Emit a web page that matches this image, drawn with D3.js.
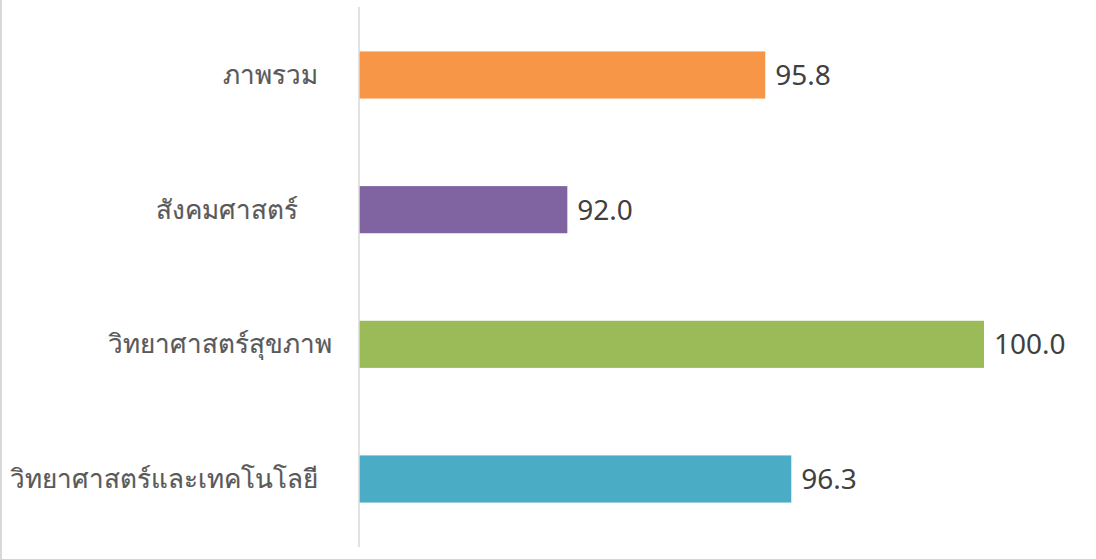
<!DOCTYPE html>
<html>
<head>
<meta charset="utf-8">
<script src="https://cdn.jsdelivr.net/npm/d3@7"></script>
<style>
  body { margin: 0; background: #fff; }
  text { font-family: "Noto Sans", "DejaVu Sans", sans-serif; white-space: pre; }
</style>
</head>
<body>
<div id="chart"></div>
<script>
var width = 1096;
var height = 559;

// data (top to bottom)
var categories = ["ภาพรวม  ", "สังคมศาสตร์     ", "วิทยาศาสตร์สุขภาพ", "วิทยาศาสตร์และเทคโนโลยี  "];
var values = [95.8, 92.0, 100.0, 96.3];
var colors = ["#F79646", "#8064A2", "#9BBB59", "#4BACC6"];

var svg = d3.select("#chart")
    .append("svg")
    .attr("width", width)
    .attr("height", height);

// thin frame line on the left edge
svg.append("line")
    .attr("x1", 1).attr("x2", 1)
    .attr("y1", 0).attr("y2", height)
    .attr("stroke", "#d9d9d9")
    .attr("stroke-width", 2);

var x = d3.scaleLinear().domain([88, 100]).range([359, 984]);
var y = d3.scaleBand().domain(d3.range(categories.length)).range([7, 547]).paddingInner(0.65).paddingOuter(0.33);

// bars
svg.selectAll(".bar")
    .data(values)
    .enter()
    .append("rect")
    .attr("class", "bar")
    .attr("x", x(88))
    .attr("y", function(d, i){ return y(i); })
    .attr("width", function(d){ return x(d) - x(88); })
    .attr("height", y.bandwidth())
    .attr("fill", function(d, i){ return colors[i]; });

// vertical axis line
svg.append("line")
    .attr("x1", x(88)).attr("x2", x(88))
    .attr("y1", 7).attr("y2", 547)
    .attr("stroke", "#d9d9d9")
    .attr("stroke-width", 1.5);

// category labels
svg.selectAll(".cat")
    .data(categories)
    .enter()
    .append("text")
    .attr("class", "cat")
    .attr("x", 332)
    .attr("y", function(d, i){ return y(i) + y.bandwidth() / 2; })
    .attr("dy", "0.35em")
    .attr("text-anchor", "end")
    .attr("font-size", 26)
    .attr("fill", "#595959")
    .attr("stroke", "#595959")
    .attr("stroke-width", 0.2)
    .text(function(d){ return d; });

// value labels
svg.selectAll(".val")
    .data(values)
    .enter()
    .append("text")
    .attr("class", "val")
    .attr("x", function(d){ return x(d) + 10; })
    .attr("y", function(d, i){ return y(i) + y.bandwidth() / 2; })
    .attr("dy", "0.36em")
    .attr("font-size", 28)
    .attr("fill", "#404040")
    .text(function(d){ return d.toFixed(1); });
</script>
</body>
</html>
